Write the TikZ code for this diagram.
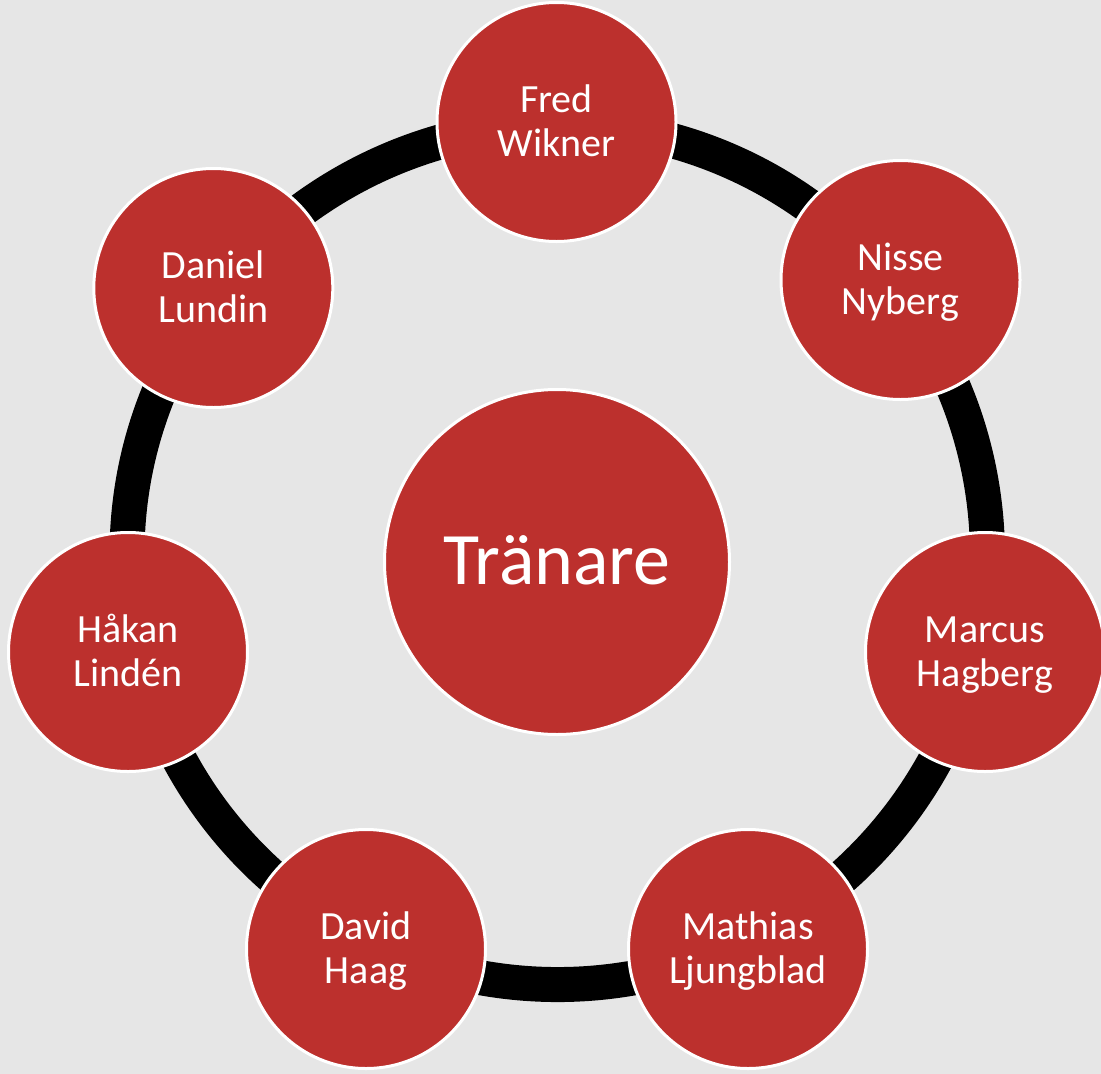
\documentclass[tikz,border=0pt]{standalone}
\usepackage{fontspec}
\setmainfont{Carlito}
\usetikzlibrary{calc,backgrounds}
\definecolor{tred}{RGB}{188,48,45}
\definecolor{bggray}{RGB}{230,230,230}
\tikzset{
  person/.style={circle, fill=tred, draw=white, line width=3pt, minimum size=239pt,
    inner sep=0pt, text=white, font=\fontsize{40}{44}\selectfont, align=center,
    text height=68pt, text depth=0pt},
  hub/.style={circle, fill=tred, draw=white, line width=3pt, minimum size=345pt,
    inner sep=0pt, text=white, font=\fontsize{74}{88}\selectfont,
    text height=50pt, text depth=6pt},
  ringarc/.style={draw=black, line width=35pt, bend left=25.7, looseness=0.896}
}
\begin{document}
\begin{tikzpicture}[x=1pt,y=-1pt]
\useasboundingbox (0,0) rectangle (1101,1074);
\coordinate (rc) at (557.6,555);
\node[hub] (center) at (557,562) {Tränare};
\node[person] (fred)    at (556.5,122) {Fred\\Wikner};
\node[person] (nisse)   at (900.5,280) {Nisse\\Nyberg};
\node[person] (marcus)  at (985,652)   {Marcus\\Hagberg};
\node[person] (mathias) at (748,949)   {Mathias\\Ljungblad};
\node[person] (david)   at (366,949)   {David\\Haag};
\node[person] (hakan)   at (128,652)   {Håkan\\Lindén};
\node[person] (daniel)  at (213.3,288) {Daniel\\Lundin};
\begin{pgfonlayer}{background}
  \fill[bggray] (0,0) rectangle (1101,1074);
  \draw[ringarc] ($(rc)!430pt!(fred)$) to ($(rc)!430pt!(nisse)$);
  \draw[ringarc] ($(rc)!430pt!(nisse)$) to ($(rc)!430pt!(marcus)$);
  \draw[ringarc] ($(rc)!430pt!(marcus)$) to ($(rc)!430pt!(mathias)$);
  \draw[ringarc] ($(rc)!430pt!(mathias)$) to ($(rc)!430pt!(david)$);
  \draw[ringarc] ($(rc)!430pt!(david)$) to ($(rc)!430pt!(hakan)$);
  \draw[ringarc] ($(rc)!430pt!(hakan)$) to ($(rc)!430pt!(daniel)$);
  \draw[ringarc] ($(rc)!430pt!(daniel)$) to ($(rc)!430pt!(fred)$);
\end{pgfonlayer}
\end{tikzpicture}
\end{document}
